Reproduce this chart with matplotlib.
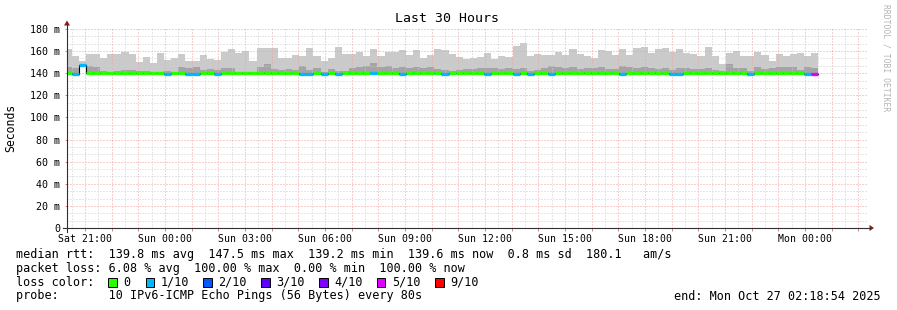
import numpy as np
import matplotlib
matplotlib.use("Agg")
import matplotlib.pyplot as plt
from matplotlib.lines import Line2D
from matplotlib.patches import Polygon, Rectangle

# --- data: 16 min rrd steps, time in hours since Sat 00:00 ---
start_h = 20.233
step_h = 16 / 60

# top of smoke (slowest ping), ms
smoke_max = [
    162.0, 155.6, 151.4, 157.7, 157.7, 153.8, 157.7, 157.7, 159.5, 157.7,
    150.0, 155.0, 149.5, 158.6, 152.0, 153.8, 157.7, 151.0, 151.0, 156.5,
    152.9, 152.0, 159.2, 161.9, 158.3, 160.1, 151.4, 162.8, 162.8, 162.8,
    153.8, 153.8, 156.5, 155.6, 162.8, 155.6, 151.4, 153.8, 164.0, 157.0,
    157.0, 159.2, 155.6, 161.9, 155.6, 159.2, 159.2, 161.0, 156.5, 161.0,
    153.8, 156.5, 161.9, 161.0, 157.7, 154.7, 152.9, 153.8, 154.7, 158.6,
    152.9, 155.6, 154.7, 164.6, 167.6, 155.6, 157.7, 156.5, 156.5, 159.2,
    156.5, 161.9, 157.7, 155.6, 153.8, 161.0, 160.1, 156.5, 161.9, 156.5,
    162.8, 163.7, 158.3, 161.9, 162.8, 159.2, 161.9, 158.3, 157.4, 155.6,
    163.7, 155.6, 148.6, 158.3, 160.1, 155.6, 155.6, 159.2, 156.5, 151.0,
    157.4, 155.6, 157.4, 158.3, 155.6, 158.3,
]
# top of the darker inner smoke band, ms
smoke_mid = [
    145.3, 144.4, 147.5, 146.5, 145.9, 142.0, 141.0, 142.0, 142.9, 142.9,
    142.0, 142.0, 141.2, 141.0, 142.0, 141.0, 145.3, 145.0, 145.9, 142.9,
    143.8, 142.9, 145.0, 144.4, 141.4, 141.4, 141.0, 145.9, 148.0, 143.8,
    142.9, 143.8, 142.9, 146.5, 142.9, 145.0, 141.0, 143.5, 142.0, 142.0,
    144.4, 145.9, 146.5, 149.5, 145.3, 146.5, 144.4, 145.3, 144.4, 145.9,
    144.4, 145.9, 143.5, 142.9, 142.3, 142.9, 143.5, 143.5, 144.4, 145.0,
    144.4, 143.5, 144.4, 143.5, 144.4, 142.3, 142.9, 144.4, 146.5, 145.9,
    144.4, 145.9, 143.5, 144.4, 144.4, 145.9, 143.5, 143.5, 146.5, 145.3,
    144.4, 145.3, 144.4, 143.5, 144.4, 142.9, 144.4, 144.4, 143.5, 143.5,
    144.4, 142.9, 142.3, 148.3, 144.4, 144.4, 142.3, 145.3, 143.5, 144.4,
    145.3, 145.3, 145.3, 142.9, 145.3, 144.4,
]
# median rtt, ms
median = [
    140.2, 139.5, 147.5, 140.1, 140.1, 140.4, 140.4, 140.3, 140.3, 140.2,
    140.1, 140.3, 140.2, 140.4, 139.5, 140.2, 140.3, 139.5, 139.5, 140.1,
    140.2, 139.5, 140.2, 140.4, 140.1, 140.1, 140.0, 140.3, 140.2, 140.1,
    140.2, 140.1, 140.4, 139.5, 139.5, 140.0, 139.5, 140.1, 139.5, 140.3,
    140.1, 140.0, 140.2, 139.9, 140.2, 140.3, 140.4, 139.5, 140.3, 140.2,
    140.1, 140.1, 140.3, 139.5, 140.0, 140.0, 140.1, 140.5, 140.5, 139.5,
    140.3, 140.2, 140.4, 139.5, 140.1, 139.5, 140.2, 140.4, 139.7, 140.3,
    140.1, 140.2, 140.2, 140.1, 140.1, 140.6, 140.2, 140.4, 139.6, 140.1,
    140.4, 140.3, 140.5, 140.5, 140.2, 139.6, 139.6, 140.2, 140.3, 140.1,
    140.3, 140.1, 140.1, 140.3, 140.2, 140.2, 139.5, 140.2, 140.0, 140.1,
    140.6, 140.3, 140.1, 140.2, 139.6, 139.6,
]
# lost pings out of 10
loss = [
    0, 1, 1, 0, 0, 0, 0, 0, 0, 0,
    0, 0, 0, 0, 1, 0, 0, 1, 1, 0,
    0, 1, 0, 0, 0, 0, 0, 0, 0, 0,
    0, 0, 0, 1, 1, 0, 1, 0, 1, 0,
    0, 0, 0, 1, 0, 0, 0, 1, 0, 0,
    0, 0, 0, 1, 0, 0, 0, 0, 0, 1,
    0, 0, 0, 1, 0, 1, 0, 0, 1, 0,
    0, 0, 0, 0, 0, 0, 0, 0, 1, 0,
    0, 0, 0, 0, 0, 1, 1, 0, 0, 0,
    0, 0, 0, 0, 0, 0, 1, 0, 0, 0,
    0, 0, 0, 0, 1, 5,
]

loss_levels = [0, 1, 2, 3, 4, 5, 9]
loss_labels = ["0", "1/10", "2/10", "3/10", "4/10", "5/10", "9/10"]
loss_colors = ["#26ff00", "#00b8ff", "#0059ff", "#5e00ff", "#7e00ff", "#dd00ff", "#ff0000"]

tick_hours = list(range(21, 49, 3))
day_names = ["Sat", "Sun", "Mon"]
y_ticks = list(range(0, 181, 20))

legend_lines = [
    "median rtt:  139.8 ms avg  147.5 ms max  139.2 ms min  139.6 ms now  0.8 ms sd  180.1   am/s",
    "packet loss: 6.08 % avg  100.00 % max  0.00 % min  100.00 % now",
    "loss color:",
    "probe:       10 IPv6-ICMP Echo Pings (56 Bytes) every 80s",
]
end_text = "end: Mon Oct 27 02:18:54 2025"

# --- figure, pixel helpers ---
W, H = 897, 310
plt.rcParams["font.family"] = ["DejaVu Sans Mono"]
fig = plt.figure(figsize=(W / 100, H / 100), dpi=100)
fig.patch.set_facecolor("white")

def fx(px):
    return px / W

def fy(py):
    return 1 - py / H

ax = fig.add_axes([fx(67), fy(228), fx(866.7) - fx(67), fy(29) - fy(228)])
ax.set_xlim(20.325, 50.314)
ax.set_ylim(0, 180)
for s in ax.spines.values():
    s.set_visible(False)

n = len(smoke_max)
edges = start_h + step_h * np.arange(n + 1)
med = np.array(median)
lo = med - 0.7

def stepify(a):
    a = np.asarray(a, dtype=float)
    return np.append(a, a[-1])

# smoke
ax.fill_between(edges, stepify(lo), stepify(smoke_mid), step="post",
                color="#a4a4a4", lw=0, zorder=1)
ax.fill_between(edges, stepify(smoke_mid), stepify(smoke_max), step="post",
                color="#cacaca", lw=0, zorder=1)

# grid on top of smoke
dots = (0, (1, 2))
for h in np.arange(20.5, 50.31, 0.5):
    major = abs(h - round(h)) < 1e-6
    ax.axvline(h, color="#f0a0a0" if major else "#cfcfcf", lw=0.72,
               ls=dots, zorder=2)
for v in np.arange(20 / 3, 180.01, 20 / 3):
    major = abs(v / 20 - round(v / 20)) < 1e-6
    ax.axhline(v, color="#f0a0a0" if major else "#cfcfcf", lw=0.72,
               ls=dots, zorder=2)

# median line, coloured by loss
ax.step(edges, stepify(med), where="post", color="black", lw=0.8, zorder=3)
col_of = dict(zip(loss_levels, loss_colors))
ax.hlines(med, edges[:-1], edges[1:], colors=[col_of[l] for l in loss],
          lw=2.4, zorder=4)

# ticks
ax.set_xticks(list(range(21, 51)))
ax.set_xticklabels([f"{day_names[h // 24]} {h % 24:02d}:00" if h in tick_hours else ""
                    for h in range(21, 51)])
ax.set_yticks(y_ticks)
ax.set_yticklabels([f"{v} m" if v else "0" for v in y_ticks])
ax.tick_params(axis="x", length=2.2, width=0.7, color="#e08080", pad=2.4,
               labelsize=7.1)
ax.tick_params(axis="y", length=1.5, width=0.7, color="#e08080", pad=3.6,
               labelsize=7.2)

# axes with arrows
fig.add_artist(Line2D([fx(63), fx(869.5)], [fy(228), fy(228)], color="#303030", lw=0.8))
fig.add_artist(Line2D([fx(67), fx(67)], [fy(232), fy(25)], color="#303030", lw=0.8))
fig.add_artist(Polygon([(fx(869.5), fy(225)), (fx(869.5), fy(231)), (fx(874), fy(228))],
                       closed=True, color="#8b1a1a", lw=0))
fig.add_artist(Polygon([(fx(64), fy(25.5)), (fx(70), fy(25.5)), (fx(67), fy(20.5))],
                       closed=True, color="#8b1a1a", lw=0))

# titles
fig.text(fx(447), fy(19), "Last 30 Hours", ha="center", va="center", fontsize=9.5)
fig.text(fx(11), fy(128), "Seconds", rotation=90, ha="center", va="center", fontsize=8.3)
fig.text(fx(886), fy(4), "RRDTOOL / TOBI OETIKER", rotation=270, ha="center", va="top",
         fontsize=5.8, color="#b4b4b4")

# legend
row_y = [254.3, 268.3, 282.3, 296]
for txt, ry in zip(legend_lines, row_y):
    fig.text(fx(16), fy(ry), txt, ha="left", va="center", fontsize=8.5)
box_x = [108.3, 145.7, 203.3, 261, 319, 376.7, 435]
for bx, lab, c in zip(box_x, loss_labels, loss_colors):
    fig.add_artist(Rectangle((fx(bx), fy(286.5)), fx(8.5), fy(278) - fy(286.5),
                             facecolor=c, edgecolor="black", lw=0.7))
    fig.text(fx(bx + 15), fy(row_y[2]), lab, ha="left", va="center", fontsize=8.5)
fig.text(fx(881), fy(row_y[3]), end_text, ha="right", va="center", fontsize=8.5)

fig.savefig("out.png", dpi=100, facecolor="white")
